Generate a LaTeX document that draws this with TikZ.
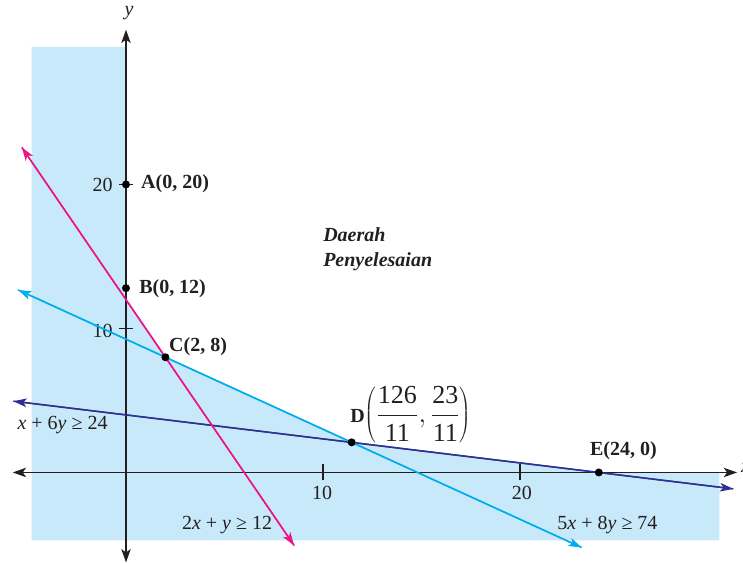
\documentclass[tikz,border=0pt]{standalone}
\usepackage{fontspec}
\setmainfont{Liberation Serif}
\usetikzlibrary{arrows.meta}
\definecolor{shadecol}{RGB}{200,233,250}
\definecolor{pinkcol}{RGB}{236,20,140}
\definecolor{cyancol}{RGB}{0,174,239}
\definecolor{navycol}{RGB}{46,49,146}
\definecolor{axiscol}{RGB}{35,31,32}
\begin{document}
\begin{tikzpicture}[x=14.775pt,y=10.8pt,
  axisline/.style={draw=axiscol,line width=1.2pt,{Stealth[length=10pt,width=7pt,inset=2.5pt]}-{Stealth[length=10pt,width=7pt,inset=2.5pt]}},
  ineqline/.style={line width=1.1pt,-{Stealth[length=10pt,width=6.5pt,inset=2.5pt]}},
  tickmark/.style={draw=axiscol,line width=1pt},
  dotpt/.style={circle,fill=black,inner sep=0pt,minimum size=6pt},
  ptlabel/.style={font=\fontsize{15}{17}\selectfont\bfseries,text=axiscol,inner sep=0pt},
  numlabel/.style={font=\fontsize{15}{17}\selectfont,text=axiscol,inner sep=0pt},
  ineqlabel/.style={font=\fontsize{15}{17}\selectfont,text=axiscol,inner sep=0pt},
  regionlabel/.style={font=\fontsize{15}{17}\selectfont\bfseries\itshape,text=axiscol,inner sep=0pt,anchor=west}]
\useasboundingbox (-6.396,-6.285) rectangle (31.32,32.81);
% corner points
\coordinate (Cp) at (2,8);
\coordinate (Dp) at (126/11,23/11);
\coordinate (Ep) at (24,0);
% shaded (non-solution) region
\fill[shadecol] (-4.787,29.53) -- (0,29.53) -- (0,11.86) -- (Cp) -- (Dp) -- (Ep)
  -- (30.12,0) -- (30.12,-4.72) -- (-4.787,-4.72) -- cycle;
% axes
\coordinate (xl) at (-5.75,0);
\coordinate (xr) at (31.02,0);
\coordinate (yb) at (0,-6.25);
\coordinate (yt) at (0,30.75);
\draw[axisline] (xl) -- (xr);
\draw[axisline] (yb) -- (yt);
\node[font=\fontsize{15}{17}\selectfont\itshape,text=axiscol] (ylab) at (0.15,31.91) {y};
\node[font=\fontsize{15}{17}\selectfont\itshape,text=axiscol] (xlab) at (31.45,0.35) {x};
% ticks
\draw[tickmark] (0,20) ++(-5.5pt,0) -- ++(11pt,0);
\draw[tickmark] (0,10) ++(-5.5pt,0) -- ++(11pt,0);
\draw[tickmark] (10,0) ++(0,-6pt) -- ++(0,12pt);
\draw[tickmark] (20,0) ++(0,-6pt) -- ++(0,12pt);
\node[numlabel,anchor=east] (y20) at (-0.66,20) {20};
\node[numlabel,anchor=east] (y10) at (-0.66,9.8) {10};
\node[numlabel] (x10) at (9.95,-1.45) {10};
\node[numlabel] (x20) at (20.1,-1.45) {20};
% inequality lines
\coordinate (pinkA) at (-5.29,22.58);
\coordinate (pinkB) at (8.54,-5.08);
\coordinate (cyanA) at (-5.48,12.68);
\coordinate (cyanB) at (23.13,-5.21);
\coordinate (navyA) at (-5.72,4.95);
\coordinate (navyB) at (30.83,-1.14);
\draw[ineqline,draw=navycol] (navyA) -- (navyB);
\draw[ineqline,draw=navycol] (navyB) -- (navyA);
\draw[ineqline,draw=cyancol] (cyanA) -- (cyanB);
\draw[ineqline,draw=cyancol] (cyanB) -- (cyanA);
\draw[ineqline,draw=pinkcol] (pinkA) -- (pinkB);
\draw[ineqline,draw=pinkcol] (pinkB) -- (pinkA);
% points
\node[dotpt] (A) at (0,20) {};
\node[dotpt] (B) at (0,12.8) {};
\node[dotpt] (C) at (Cp) {};
\node[dotpt] (D) at (Dp) {};
\node[dotpt] (E) at (Ep) {};
\node[ptlabel,anchor=west] (Alab) at (0.76,20.03) {A(0, 20)};
\node[ptlabel,anchor=west] (Blab) at (0.66,12.74) {B(0, 12)};
\node[ptlabel,anchor=west] (Clab) at (2.18,8.74) {C(2, 8)};
\node[ptlabel,anchor=west] (Dlab) at (11.37,4.0) {D\fontsize{19.5}{22}\selectfont\mdseries$\displaystyle\left(\frac{\mbox{126}}{\mbox{11}},\frac{\mbox{23}}{\mbox{11}}\right)$};
\node[ptlabel] (Elab) at (25.25,1.49) {E(24, 0)};
% region text
\node[regionlabel] (reg1) at (10.0,16.49) {Daerah};
\node[regionlabel] (reg2) at (10.0,14.64) {Penyelesaian};
% inequality labels
\node[ineqlabel] (l1) at (-3.22,3.30) {\textit{x} + 6\textit{y} ≥ 24};
\node[ineqlabel] (l2) at (5.13,-3.65) {2\textit{x} + \textit{y} ≥ 12};
\node[ineqlabel] (l3) at (24.44,-3.68) {5\textit{x} + 8\textit{y} ≥ 74};
\end{tikzpicture}
\end{document}
